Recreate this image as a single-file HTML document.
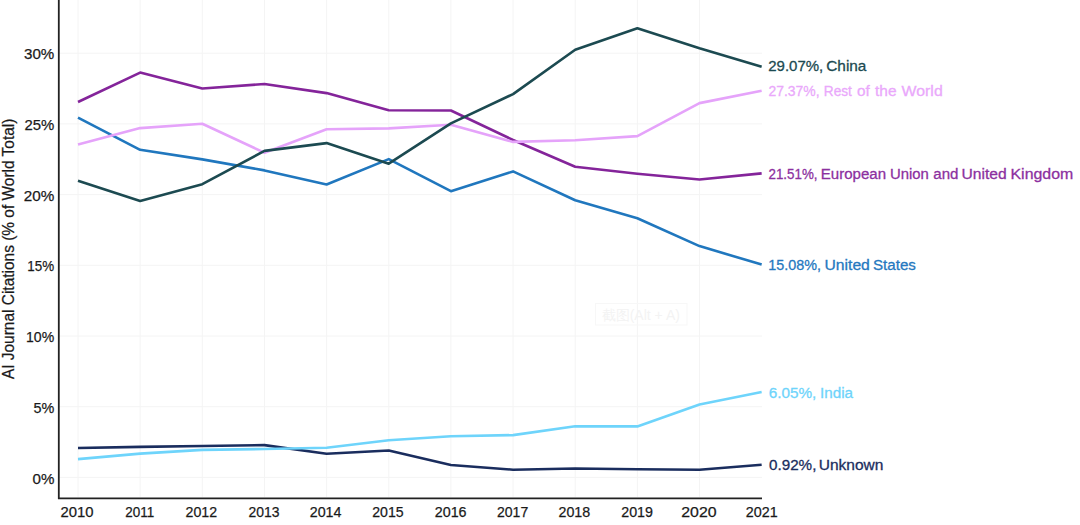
<!DOCTYPE html>
<html><head><meta charset="utf-8">
<style>
html,body{margin:0;padding:0;background:#fff;}
body{width:1080px;height:525px;overflow:hidden;}
svg{display:block;font-family:"Liberation Sans",sans-serif;}
.g{stroke:#f4f4f4;stroke-width:1;fill:none;}
.l{fill:none;stroke-width:2.6;stroke-linejoin:round;stroke-linecap:butt;}
.tk{font-size:15.3px;fill:#1a1a1a;stroke:#1a1a1a;stroke-width:0.25px;}
.lb{font-size:15.3px;stroke-width:0.3px;}
.ti{font-size:15.6px;fill:#1a1a1a;stroke:#1a1a1a;stroke-width:0.25px;text-anchor:middle;}
</style></head><body>
<svg width="1080" height="525" viewBox="0 0 1080 525">
<line x1="59" y1="477.40" x2="762" y2="477.40" class="g"/>
<line x1="59" y1="406.70" x2="762" y2="406.70" class="g"/>
<line x1="59" y1="336.00" x2="762" y2="336.00" class="g"/>
<line x1="59" y1="265.30" x2="762" y2="265.30" class="g"/>
<line x1="59" y1="194.60" x2="762" y2="194.60" class="g"/>
<line x1="59" y1="123.90" x2="762" y2="123.90" class="g"/>
<line x1="59" y1="53.20" x2="762" y2="53.20" class="g"/>
<line x1="78.00" y1="0" x2="78.00" y2="497" class="g"/>
<line x1="140.15" y1="0" x2="140.15" y2="497" class="g"/>
<line x1="202.30" y1="0" x2="202.30" y2="497" class="g"/>
<line x1="264.45" y1="0" x2="264.45" y2="497" class="g"/>
<line x1="326.60" y1="0" x2="326.60" y2="497" class="g"/>
<line x1="388.75" y1="0" x2="388.75" y2="497" class="g"/>
<line x1="450.90" y1="0" x2="450.90" y2="497" class="g"/>
<line x1="513.05" y1="0" x2="513.05" y2="497" class="g"/>
<line x1="575.20" y1="0" x2="575.20" y2="497" class="g"/>
<line x1="637.35" y1="0" x2="637.35" y2="497" class="g"/>
<line x1="699.50" y1="0" x2="699.50" y2="497" class="g"/>
<rect x="595.5" y="303.5" width="91.5" height="21.5" fill="none" stroke="#f7f7f7" stroke-width="1"/>
<text x="640.8" y="320.2" font-size="14" fill="#f3f3f3" text-anchor="middle">截图(Alt + A)</text>
<polyline points="78.00,448.00 140.15,446.90 202.30,446.00 264.45,445.10 326.60,453.70 388.75,450.50 450.90,465.00 513.05,469.70 575.20,468.50 637.35,469.30 699.50,469.80 761.65,464.80" stroke="#1a2d5e" class="l"/>
<polyline points="78.00,459.10 140.15,453.60 202.30,449.90 264.45,449.00 326.60,447.70 388.75,440.20 450.90,436.30 513.05,435.10 575.20,426.30 637.35,426.40 699.50,404.40 761.65,391.95" stroke="#6ed4fb" class="l"/>
<polyline points="78.00,102.00 140.15,72.60 202.30,88.50 264.45,84.00 326.60,93.10 388.75,110.30 450.90,110.50 513.05,140.00 575.20,166.80 637.35,173.70 699.50,179.50 761.65,173.35" stroke="#84249a" class="l"/>
<polyline points="78.00,117.60 140.15,149.80 202.30,159.40 264.45,170.40 326.60,184.50 388.75,159.15 450.90,191.20 513.05,171.40 575.20,200.20 637.35,218.30 699.50,246.10 761.65,264.57" stroke="#2077be" class="l"/>
<polyline points="78.00,144.50 140.15,128.10 202.30,123.70 264.45,152.70 326.60,129.20 388.75,128.40 450.90,124.70 513.05,141.90 575.20,140.20 637.35,136.10 699.50,103.10 761.65,90.78" stroke="#e5a3fa" class="l"/>
<polyline points="78.00,180.70 140.15,200.90 202.30,184.20 264.45,150.90 326.60,143.10 388.75,163.70 450.90,123.40 513.05,94.10 575.20,49.70 637.35,28.30 699.50,48.30 761.65,66.75" stroke="#1c4a51" class="l"/>
<path d="M58.8 0 V498.3 H762" fill="none" stroke="#222" stroke-width="1.8"/>
<text x="24.00" y="59.00" class="tk" textLength="30.26" lengthAdjust="spacingAndGlyphs">30%</text>
<text x="24.50" y="129.80" class="tk" textLength="29.84" lengthAdjust="spacingAndGlyphs">25%</text>
<text x="23.75" y="200.60" class="tk" textLength="30.58" lengthAdjust="spacingAndGlyphs">20%</text>
<text x="27.25" y="271.40" class="tk" textLength="26.84" lengthAdjust="spacingAndGlyphs">15%</text>
<text x="26.00" y="342.20" class="tk" textLength="28.14" lengthAdjust="spacingAndGlyphs">10%</text>
<text x="33.50" y="413.00" class="tk" textLength="20.80" lengthAdjust="spacingAndGlyphs">5%</text>
<text x="32.50" y="483.80" class="tk" textLength="21.85" lengthAdjust="spacingAndGlyphs">0%</text>
<text x="60.50" y="517.1" class="tk" textLength="33.04" lengthAdjust="spacingAndGlyphs">2010</text>
<text x="125.25" y="517.1" class="tk" textLength="28.99" lengthAdjust="spacingAndGlyphs">2011</text>
<text x="185.50" y="517.1" class="tk" textLength="31.61" lengthAdjust="spacingAndGlyphs">2012</text>
<text x="248.50" y="517.1" class="tk" textLength="31.00" lengthAdjust="spacingAndGlyphs">2013</text>
<text x="309.75" y="517.1" class="tk" textLength="31.75" lengthAdjust="spacingAndGlyphs">2014</text>
<text x="372.25" y="517.1" class="tk" textLength="31.41" lengthAdjust="spacingAndGlyphs">2015</text>
<text x="434.75" y="517.1" class="tk" textLength="31.83" lengthAdjust="spacingAndGlyphs">2016</text>
<text x="497.00" y="517.1" class="tk" textLength="31.24" lengthAdjust="spacingAndGlyphs">2017</text>
<text x="558.50" y="517.1" class="tk" textLength="31.75" lengthAdjust="spacingAndGlyphs">2018</text>
<text x="621.25" y="517.1" class="tk" textLength="31.73" lengthAdjust="spacingAndGlyphs">2019</text>
<text x="681.25" y="517.1" class="tk" textLength="35.28" lengthAdjust="spacingAndGlyphs">2020</text>
<text x="745.75" y="517.1" class="tk" textLength="31.94" lengthAdjust="spacingAndGlyphs">2021</text>
<text x="768.25" y="70.9" fill="#1c4a51" stroke="#1c4a51" class="lb" textLength="55.04" lengthAdjust="spacingAndGlyphs">29.07%,</text>
<text x="826.25" y="70.9" fill="#1c4a51" stroke="#1c4a51" class="lb" textLength="40.17" lengthAdjust="spacingAndGlyphs">China</text>
<text x="768.50" y="96.4" fill="#eaa8fb" stroke="#eaa8fb" class="lb" textLength="51.13" lengthAdjust="spacingAndGlyphs">27.37%,</text>
<text x="823.75" y="96.4" fill="#eaa8fb" stroke="#eaa8fb" class="lb" textLength="28.15" lengthAdjust="spacingAndGlyphs">Rest</text>
<text x="857.00" y="96.4" fill="#eaa8fb" stroke="#eaa8fb" class="lb" textLength="12.82" lengthAdjust="spacingAndGlyphs">of</text>
<text x="875.00" y="96.4" fill="#eaa8fb" stroke="#eaa8fb" class="lb" textLength="21.53" lengthAdjust="spacingAndGlyphs">the</text>
<text x="901.50" y="96.4" fill="#eaa8fb" stroke="#eaa8fb" class="lb" textLength="41.22" lengthAdjust="spacingAndGlyphs">World</text>
<text x="768.50" y="178.7" fill="#8c30a0" stroke="#8c30a0" class="lb" textLength="49.02" lengthAdjust="spacingAndGlyphs">21.51%,</text>
<text x="820.75" y="178.7" fill="#8c30a0" stroke="#8c30a0" class="lb" textLength="65.31" lengthAdjust="spacingAndGlyphs">European</text>
<text x="890.00" y="178.7" fill="#8c30a0" stroke="#8c30a0" class="lb" textLength="38.86" lengthAdjust="spacingAndGlyphs">Union</text>
<text x="933.25" y="178.7" fill="#8c30a0" stroke="#8c30a0" class="lb" textLength="25.16" lengthAdjust="spacingAndGlyphs">and</text>
<text x="961.50" y="178.7" fill="#8c30a0" stroke="#8c30a0" class="lb" textLength="45.22" lengthAdjust="spacingAndGlyphs">United</text>
<text x="1010.50" y="178.7" fill="#8c30a0" stroke="#8c30a0" class="lb" textLength="62.72" lengthAdjust="spacingAndGlyphs">Kingdom</text>
<text x="768.25" y="269.6" fill="#2578c0" stroke="#2578c0" class="lb" textLength="52.68" lengthAdjust="spacingAndGlyphs">15.08%,</text>
<text x="824.50" y="269.6" fill="#2578c0" stroke="#2578c0" class="lb" textLength="45.32" lengthAdjust="spacingAndGlyphs">United</text>
<text x="873.00" y="269.6" fill="#2578c0" stroke="#2578c0" class="lb" textLength="42.91" lengthAdjust="spacingAndGlyphs">States</text>
<text x="768.75" y="398" fill="#6ed4fb" stroke="#6ed4fb" class="lb" textLength="47.62" lengthAdjust="spacingAndGlyphs">6.05%,</text>
<text x="820.00" y="398" fill="#6ed4fb" stroke="#6ed4fb" class="lb" textLength="32.96" lengthAdjust="spacingAndGlyphs">India</text>
<text x="769.00" y="470" fill="#1a2d5e" stroke="#1a2d5e" class="lb" textLength="47.36" lengthAdjust="spacingAndGlyphs">0.92%,</text>
<text x="818.75" y="470" fill="#1a2d5e" stroke="#1a2d5e" class="lb" textLength="64.66" lengthAdjust="spacingAndGlyphs">Unknown</text>
<text transform="translate(14.3,248.85) rotate(-90)" class="ti" textLength="260.5" lengthAdjust="spacingAndGlyphs">AI Journal Citations (% of World Total)</text>
</svg>
</body></html>
